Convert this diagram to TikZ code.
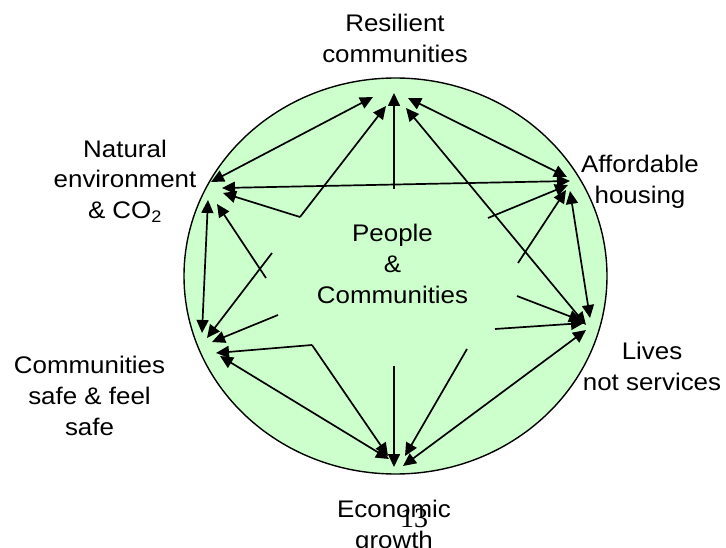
\documentclass[tikz,border=0pt]{standalone}
\usepackage{fontspec}
\setmainfont{Liberation Sans}[FakeStretch=1.08]
\newfontfamily\serifnum{Liberation Serif}
\usetikzlibrary{arrows.meta}
\definecolor{bg}{RGB}{204,255,204}
\begin{document}
\begin{tikzpicture}[x=1pt,y=-1pt,
  lbl/.style={align=center,inner sep=0pt,anchor=base,font=\fontsize{24}{31}\selectfont},
  link/.style={line width=1.7pt,-{Triangle[length=13pt,width=12pt]}},
  dlink/.style={line width=1.7pt,{Triangle[length=13pt,width=12pt]}-{Triangle[length=13pt,width=12pt]}}]
\useasboundingbox (0,0) rectangle (726,548);
\fill[white] (0,0) rectangle (726,548);
\draw[fill=bg,line width=1.4pt] (395.5,276) ellipse [x radius=211.5pt,y radius=198pt];

% labels (anchor base = baseline of the last line)
\node[lbl] (res) at (395,63) {Resilient\\communities};
\node[lbl] (nat) at (125,219) {Natural\\environment\\\& CO\textsubscript{2}};
\node[lbl] (aff) at (640,204) {Affordable\\housing};
\node[lbl] (liv) at (652,390) {Lives\\not services};
\node[lbl] (com) at (89.5,435) {Communities\\safe \& feel\\safe};
\node[lbl] (eco) at (394,548) {Economic\\growth};
\node[lbl] (ppl) at (392.5,303) {People\\\&\\Communities};
\node[inner sep=0pt,anchor=base,font=\serifnum\fontsize{28}{32}\selectfont] (pg) at (414,527) {13};

% arrow tip coordinates
\coordinate (rA) at (394,93);
\coordinate (rN) at (373,97);
\coordinate (rP) at (386,106);
\coordinate (rL) at (406,108);
\coordinate (rF) at (408,98);
\coordinate (nR) at (211,182);
\coordinate (nF) at (222,188);
\coordinate (nP) at (223,193);
\coordinate (nC) at (208,200);
\coordinate (nX) at (217,204);
\coordinate (fR) at (567,177);
\coordinate (fN) at (570,181);
\coordinate (fX1) at (568,185);
\coordinate (fX2) at (566,190);
\coordinate (fL) at (570,191);
\coordinate (lF) at (590,318);
\coordinate (lR) at (586,325);
\coordinate (lX1) at (582,321);
\coordinate (lX2) at (584,323);
\coordinate (lE) at (586,330);
\coordinate (eC) at (389,459);
\coordinate (eP) at (388,456);
\coordinate (eV) at (394,467);
\coordinate (eX) at (405,456);
\coordinate (eL) at (403,466);
\coordinate (cN) at (202,333);
\coordinate (cX1) at (207,338);
\coordinate (cX2) at (212,342);
\coordinate (cP) at (216,353);
\coordinate (cE) at (220,356);
% inner points
\coordinate (i1) at (394,189);
\coordinate (p1) at (300,217);
\coordinate (i2) at (266,278);
\coordinate (i3) at (272,253);
\coordinate (i4) at (278,315);
\coordinate (p2) at (312,345);
\coordinate (i5) at (394,366);
\coordinate (i6) at (467,349);
\coordinate (i7) at (495,329);
\coordinate (i8) at (517,296);
\coordinate (i9) at (518,263);
\coordinate (i10) at (488,218);

% outer double-headed links
\draw[dlink] (rN) -- (nR);
\draw[dlink] (rF) -- (fR);
\draw[dlink] (nF) -- (fN);
\draw[dlink] (rL) -- (lR);
\draw[dlink] (nC) -- (cN);
\draw[dlink] (fL) -- (lF);
\draw[dlink] (cE) -- (eC);
\draw[dlink] (lE) -- (eL);

% star links
\draw[link] (i1) -- (rA);
\draw[link] (p1) -- (rP);
\draw[link] (p1) -- (nP);
\draw[link] (i2) -- (nX);
\draw[link] (i3) -- (cX1);
\draw[link] (i4) -- (cX2);
\draw[link] (p2) -- (cP);
\draw[link] (p2) -- (eP);
\draw[link] (i5) -- (eV);
\draw[link] (i6) -- (eX);
\draw[link] (i7) -- (lX2);
\draw[link] (i8) -- (lX1);
\draw[link] (i9) -- (fX2);
\draw[link] (i10) -- (fX1);
\end{tikzpicture}
\end{document}
